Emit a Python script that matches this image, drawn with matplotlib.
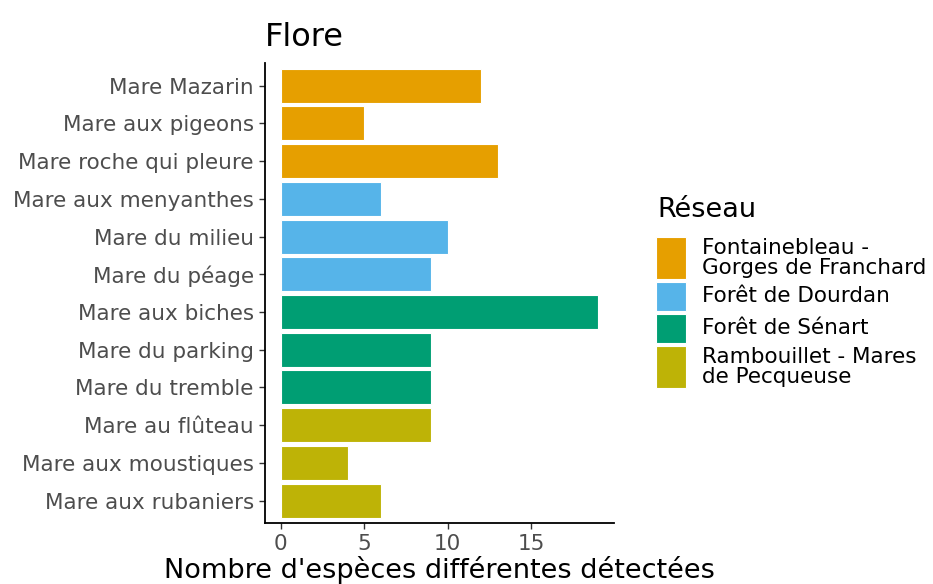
import matplotlib.pyplot as plt
from matplotlib.patches import Rectangle

mares = ['Mare Mazarin', 'Mare aux pigeons', 'Mare roche qui pleure',
         'Mare aux menyanthes', 'Mare du milieu', 'Mare du péage',
         'Mare aux biches', 'Mare du parking', 'Mare du tremble',
         'Mare au flûteau', 'Mare aux moustiques', 'Mare aux rubaniers']
nbEspeces = [12, 5, 13, 6, 10, 9, 19, 9, 9, 9, 4, 6]
reseauParMare = [0, 0, 0, 1, 1, 1, 2, 2, 2, 3, 3, 3]
reseaux = ['Fontainebleau -\nGorges de Franchard', 'Forêt de Dourdan',
           'Forêt de Sénart', 'Rambouillet - Mares\nde Pecqueuse']
couleurs = ['#E69F00', '#56B4E9', '#009E73', '#BEB306']
xTicks = [0, 5, 10, 15]

plt.rcParams['font.family'] = 'DejaVu Sans'
fig = plt.figure(figsize=(9.33, 5.84), dpi=100)
ax = fig.add_axes([0.284, 0.104, 0.374, 0.788])

n = len(mares)
yPos = list(range(n))
ax.barh(yPos, nbEspeces, height=0.9,
        color=[couleurs[r] for r in reseauParMare],
        edgecolor='white', linewidth=0.8)
ax.set_ylim(n - 1 + 0.6, -0.6)
ax.set_xlim(-0.05 * max(nbEspeces), max(nbEspeces) * 1.05)
ax.set_yticks(yPos)
ax.set_yticklabels(mares, fontsize=15.5, color='#4D4D4D')
ax.set_xticks(xTicks)
ax.set_xticklabels([str(t) for t in xTicks], fontsize=15.5, color='#4D4D4D')
ax.tick_params(length=4, width=1, color='#333333', pad=4)
for s in ['top', 'right']:
    ax.spines[s].set_visible(False)
for s in ['left', 'bottom']:
    ax.spines[s].set_linewidth(1.3)
ax.set_xlabel("Nombre d'espèces différentes détectées", fontsize=19.5, labelpad=1)
ax.set_title('Flore', fontsize=23, loc='left', pad=12)

# légende à la ggplot
W, H = 933, 584
fig.text(657 / W, 1 - 210 / H, 'Réseau', fontsize=19.5, va='center', ha='left')
y = 237
for lab, c in zip(reseaux, couleurs):
    nl = lab.count('\n') + 1
    h = 29 if nl == 1 else 42
    fig.patches.append(Rectangle((656 / W, 1 - (y + h) / H), 30 / W, h / H,
                                 transform=fig.transFigure, facecolor=c,
                                 edgecolor='white', linewidth=0.8))
    fig.text(702 / W, 1 - (y + h / 2) / H, lab, fontsize=15.5, va='center',
             ha='left', linespacing=1.0)
    y += h + 3

fig.savefig('out.png', dpi=100)
